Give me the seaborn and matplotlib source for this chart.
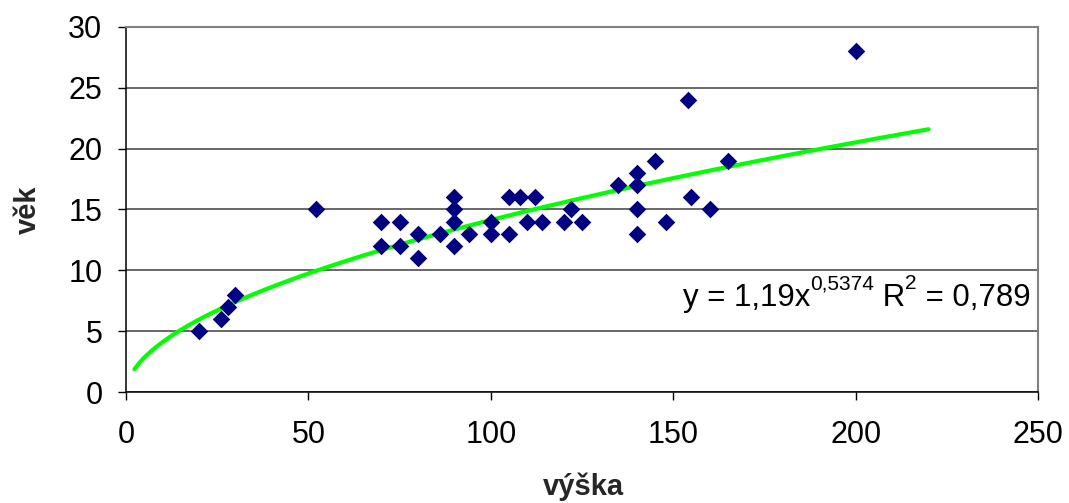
import numpy as np
import pandas as pd
import matplotlib
matplotlib.use("Agg")
import matplotlib.pyplot as plt
import matplotlib.transforms as mtransforms
import seaborn as sns

# ---- data ----
vyska = [20, 26, 28, 30, 52, 70, 70, 75, 75, 80, 80, 86, 90, 90, 90, 90, 94,
         100, 100, 105, 105, 108, 110, 112, 114, 120, 122, 125, 135, 140, 140,
         140, 140, 145, 148, 154, 155, 160, 165, 200]
vek = [5, 6, 7, 8, 15, 14, 12, 14, 12, 13, 11, 13, 16, 15, 14, 12, 13,
       14, 13, 16, 13, 16, 14, 16, 14, 14, 15, 14, 17, 18, 17,
       15, 13, 19, 14, 24, 16, 15, 19, 28]
trend_a = 1.19
trend_b = 0.5374
trend_range = [2.3, 220]
r2_text = "0,789"
x_ticks = [0, 50, 100, 150, 200, 250]
y_ticks = [0, 5, 10, 15, 20, 25, 30]

sns.set_theme(style="white")
plt.rcParams["font.family"] = ["Liberation Sans", "DejaVu Sans"]

W, H = 1069, 503
fig = plt.figure(figsize=(W / 100, H / 100), dpi=100)
ax = fig.add_axes([126 / W, (H - 392) / H, (1038 - 126) / W, (392 - 27) / H])

df = pd.DataFrame({"výška": vyska, "věk": vek})
sns.scatterplot(data=df, x="výška", y="věk", marker="D", s=80, color="#000080",
                linewidth=0, ax=ax, zorder=3)

tx = np.linspace(trend_range[0], trend_range[1], 300)
tdf = pd.DataFrame({"x": tx, "y": trend_a * tx ** trend_b})
sns.lineplot(data=tdf, x="x", y="y", color="#00FF00", linewidth=3.0, ax=ax, zorder=2)

ax.set_xlim(0, 250)
ax.set_ylim(0, 30)
ax.set_xticks(x_ticks)
ax.set_yticks(y_ticks)
ax.yaxis.grid(True, color="#404040", linewidth=1.1)
ax.xaxis.grid(False)
ax.set_axisbelow(True)

for side in ["left", "bottom"]:
    ax.spines[side].set_color("black")
    ax.spines[side].set_linewidth(1.1)
for side in ["top", "right"]:
    ax.spines[side].set_color("#808080")
    ax.spines[side].set_linewidth(1.5)

ax.tick_params(axis="both", which="major", direction="out", length=6, width=1.0,
               color="black", labelsize=22, labelcolor="black")
ax.tick_params(axis="y", pad=11, left=True)
ax.tick_params(axis="x", pad=14, bottom=True)

ax.set_xlabel("výška", fontsize=21, fontweight="bold", va="baseline")
ax.xaxis.set_label_coords((583 - 126) / 912, -(495 - 392) / 365)
ax.set_ylabel("věk", fontsize=21, fontweight="bold", va="center")
ax.yaxis.set_label_coords((28 - 126) / 912, 0.5)

# equation label
fig.canvas.draw()
renderer = fig.canvas.get_renderer()
ident = mtransforms.IdentityTransform()
x0 = 683
base = H - 306
sup = base + 17

def put(s, x, y, size):
    t = fig.text(x, y, s, fontsize=size, va="baseline", ha="left",
                 transform=ident, color="black")
    return t.get_window_extent(renderer).x1

x1 = put("y = 1,19x", x0, base, 22.5)
x2 = put("0,5374", x1, sup, 15)
x3 = put(" R", x2, base, 22.5)
x4 = put("2", x3, sup, 15)
put(" = " + r2_text, x4, base, 22.5)

fig.savefig("out.png", dpi=100)
